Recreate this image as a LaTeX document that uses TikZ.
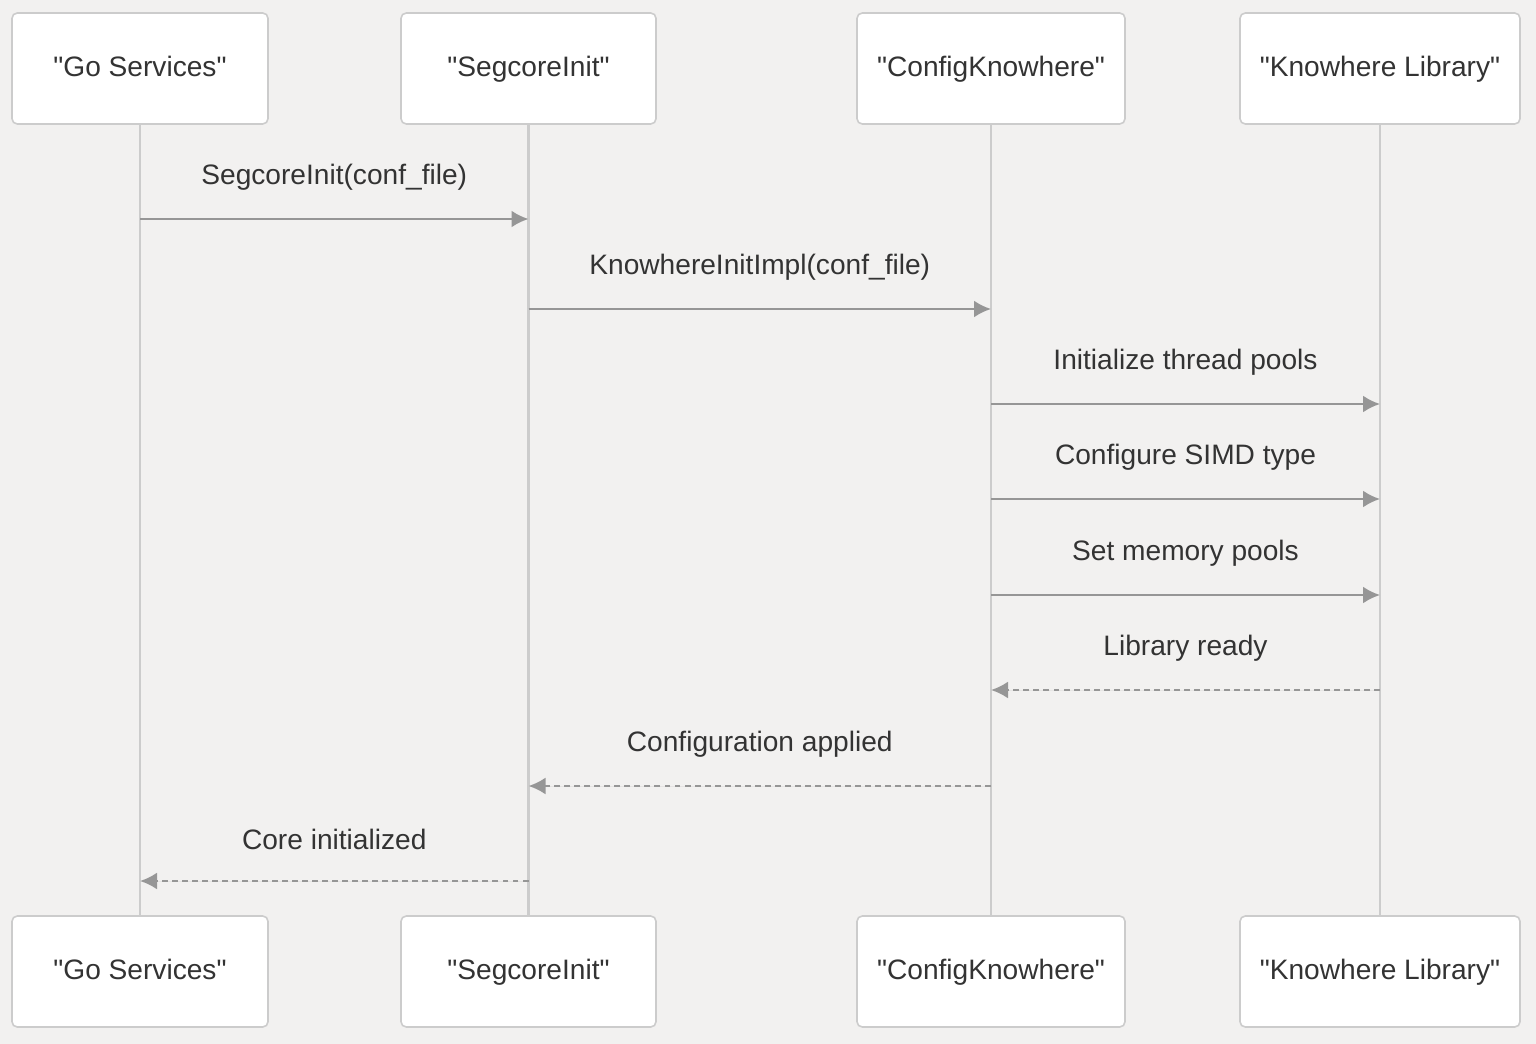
\documentclass[tikz,border=0pt]{standalone}
\usepackage{fontspec}
\newfontfamily\diagfont{Liberation Sans}
\usetikzlibrary{positioning,arrows.meta,calc}
\definecolor{PageGray}{RGB}{242,241,240}
\definecolor{BoxEdge}{RGB}{204,204,204}
\definecolor{LifeGray}{RGB}{204,204,204}
\definecolor{MsgGray}{RGB}{150,150,150}
\definecolor{InkGray}{RGB}{51,51,51}
\tikzset{
  actor/.style={draw=BoxEdge,fill=white,rounded corners=3pt,line width=0.9pt,
    minimum height=2.22cm,text height=11.5pt,text depth=2pt,align=center,text=InkGray,
    font=\diagfont\fontsize{16}{19}\selectfont},
  lifeline/.style={draw=LifeGray,line width=1.6pt},
  callmsg/.style={-{Latex[length=3.4mm,width=3.4mm]},line width=1.4pt,draw=MsgGray,fill=MsgGray},
  replymsg/.style={-{Latex[length=3.4mm,width=3.4mm]},line width=1.4pt,draw=MsgGray,fill=MsgGray,
    dash pattern=on 3.4pt off 2.3pt},
  msglabel/.style={midway,yshift=0.83cm,text=InkGray,font=\diagfont\fontsize{16}{19}\selectfont}
}

\begin{document}
\begin{tikzpicture}
  \fill[PageGray] (0,0) rectangle (30.72,-20.88);
  \useasboundingbox (0,0) rectangle (30.72,-20.88);

  % participants, top row
  \node[actor,minimum width=5.12cm] (go) at (2.8,-1.37) {"Go Services"};
  \node[actor,minimum width=5.1cm] (seg) at (10.57,-1.37) {"SegcoreInit"};
  \node[actor,minimum width=5.36cm] (cfg) at (19.82,-1.37) {"ConfigKnowhere"};
  \node[actor,minimum width=5.6cm] (lib) at (27.6,-1.37) {"Knowhere Library"};

  % participants, bottom row
  \node[actor,minimum width=5.12cm] (gob) at (2.8,-19.43) {"Go Services"};
  \node[actor,minimum width=5.1cm] (segb) at (10.57,-19.43) {"SegcoreInit"};
  \node[actor,minimum width=5.36cm] (cfgb) at (19.82,-19.43) {"ConfigKnowhere"};
  \node[actor,minimum width=5.6cm] (libb) at (27.6,-19.43) {"Knowhere Library"};

  \draw[lifeline] (go) -- (gob);
  \draw[lifeline] (seg) -- (segb);
  \draw[lifeline] (cfg) -- (cfgb);
  \draw[lifeline] (lib) -- (libb);

  % message rows
  \coordinate (m1) at (0,-4.38);
  \coordinate (m2) at (0,-6.18);
  \coordinate (m3) at (0,-8.08);
  \coordinate (m4) at (0,-9.98);
  \coordinate (m5) at (0,-11.9);
  \coordinate (m6) at (0,-13.8);
  \coordinate (m7) at (0,-15.72);
  \coordinate (m8) at (0,-17.62);

  \draw[callmsg] (go |- m1) -- node[msglabel] {SegcoreInit(conf\_file)} (seg |- m1);
  \draw[callmsg] (seg |- m2) -- node[msglabel] {KnowhereInitImpl(conf\_file)} (cfg |- m2);
  \draw[callmsg] (cfg |- m3) -- node[msglabel] {Initialize thread pools} (lib |- m3);
  \draw[callmsg] (cfg |- m4) -- node[msglabel] {Configure SIMD type} (lib |- m4);
  \draw[callmsg] (cfg |- m5) -- node[msglabel] {Set memory pools} (lib |- m5);
  \draw[replymsg] (lib |- m6) -- node[msglabel] {Library ready} (cfg |- m6);
  \draw[replymsg] (cfg |- m7) -- node[msglabel] {Configuration applied} (seg |- m7);
  \draw[replymsg] (seg |- m8) -- node[msglabel] {Core initialized} (go |- m8);
\end{tikzpicture}
\end{document}
